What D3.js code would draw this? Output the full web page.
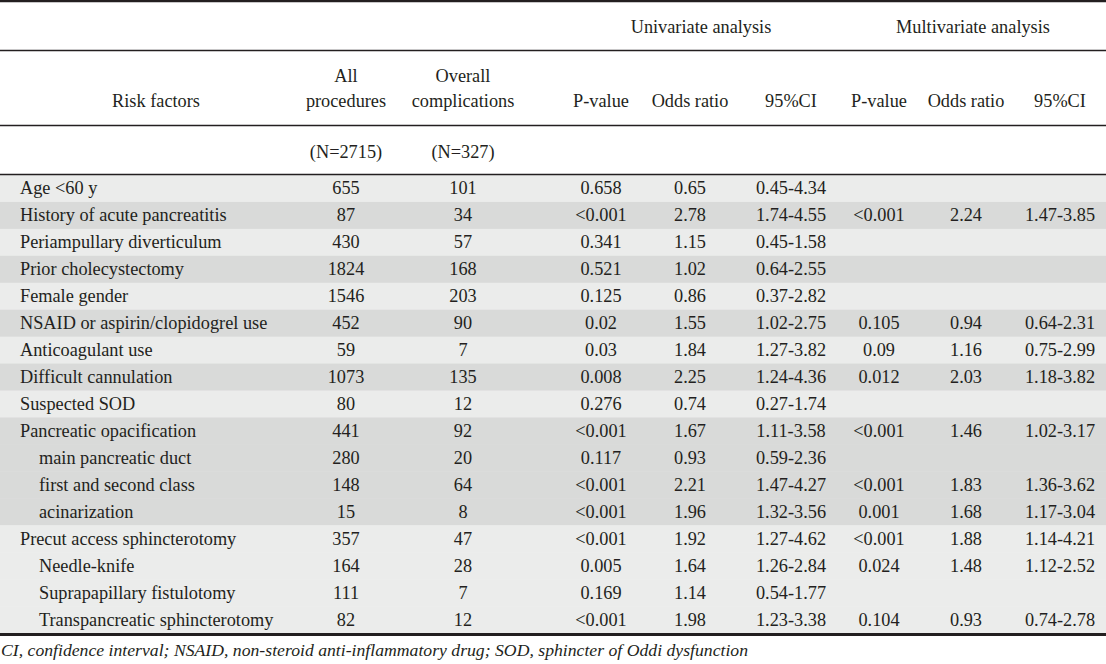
<!DOCTYPE html>
<html><head><meta charset="utf-8">
<script src="https://cdn.jsdelivr.net/npm/d3@7/dist/d3.min.js"></script>
<style>
html,body{margin:0;padding:0;background:#fff;}
svg text{font-family:"Liberation Serif","Times New Roman",serif;fill:#231f20;}
</style></head><body>
<svg id="c" width="1106" height="664"></svg>
<script>
const riskFactors = ["Age <60 y","History of acute pancreatitis","Periampullary diverticulum","Prior cholecystectomy","Female gender","NSAID or aspirin/clopidogrel use","Anticoagulant use","Difficult cannulation","Suspected SOD","Pancreatic opacification","main pancreatic duct","first and second class","acinarization","Precut access sphincterotomy","Needle-knife","Suprapapillary fistulotomy","Transpancreatic sphincterotomy"];
const indented = [false,false,false,false,false,false,false,false,false,false,true,true,true,false,true,true,true];
const shadeGroup = [0,1,0,1,0,1,0,1,0,1,1,1,1,0,0,0,0];
const allProcedures = ["655","87","430","1824","1546","452","59","1073","80","441","280","148","15","357","164","111","82"];
const overallComplications = ["101","34","57","168","203","90","7","135","12","92","20","64","8","47","28","7","12"];
const uniP = ["0.658","<0.001","0.341","0.521","0.125","0.02","0.03","0.008","0.276","<0.001","0.117","<0.001","<0.001","<0.001","0.005","0.169","<0.001"];
const uniOR = ["0.65","2.78","1.15","1.02","0.86","1.55","1.84","2.25","0.74","1.67","0.93","2.21","1.96","1.92","1.64","1.14","1.98"];
const uniCI = ["0.45-4.34","1.74-4.55","0.45-1.58","0.64-2.55","0.37-2.82","1.02-2.75","1.27-3.82","1.24-4.36","0.27-1.74","1.11-3.58","0.59-2.36","1.47-4.27","1.32-3.56","1.27-4.62","1.26-2.84","0.54-1.77","1.23-3.38"];
const multiP = ["","<0.001","","","","0.105","0.09","0.012","","<0.001","","<0.001","0.001","<0.001","0.024","","0.104"];
const multiOR = ["","2.24","","","","0.94","1.16","2.03","","1.46","","1.83","1.68","1.88","1.48","","0.93"];
const multiCI = ["","1.47-3.85","","","","0.64-2.31","0.75-2.99","1.18-3.82","","1.02-3.17","","1.36-3.62","1.17-3.04","1.14-4.21","1.12-2.52","","0.74-2.78"];
const columnKeys = ["risk","all","overall","uP","uOR","uCI","mP","mOR","mCI"];
const headerLine1 = ["","All","Overall","","","","","",""];
const headerLine2 = ["Risk factors","procedures","complications","P-value","Odds ratio","95%CI","P-value","Odds ratio","95%CI"];
const nLabels = ["","(N=2715)","(N=327)","","","","","",""];
const groupHeaders = ["Univariate analysis","Multivariate analysis"];
const footnote = "CI, confidence interval; NSAID, non-steroid anti-inflammatory drug; SOD, sphincter of Oddi dysfunction";

const W = 1106;
const svg = d3.select("#c");
const fs = 18.3;
const colX = d3.scaleOrdinal().domain(columnKeys).range([156,346,463,601,690,791,879,966,1060]);
const groupX = d3.scaleOrdinal().domain(groupHeaders).range([701,973]);
const rowY = d3.scaleBand().domain(d3.range(riskFactors.length)).range([175,633]).padding(0);
const shade = d3.scaleOrdinal().domain([0,1]).range(["#ebeceb","#d9dad9"]);

svg.selectAll("rect.bg").data(riskFactors).join("rect")
  .attr("x",0).attr("width",W)
  .attr("y",(d,i)=>rowY(i)).attr("height",rowY.bandwidth()+0.5)
  .attr("fill",(d,i)=>shade(shadeGroup[i]));

const line = (y,w)=>svg.append("line").attr("x1",0).attr("x2",W).attr("y1",y).attr("y2",y).attr("stroke","#231f20").attr("stroke-width",w);
line(1,2.5); line(50.5,1.3); line(125.5,1.3); line(174.5,1.3); line(634.5,3);

svg.selectAll("text.gh").data(groupHeaders).join("text")
  .attr("x",d=>groupX(d)).attr("y",33).attr("text-anchor","middle").attr("font-size",fs).text(d=>d);
svg.selectAll("text.h1").data(headerLine1).join("text")
  .attr("x",(d,i)=>colX(columnKeys[i])).attr("y",82).attr("text-anchor","middle").attr("font-size",fs).text(d=>d);
svg.selectAll("text.h2").data(headerLine2).join("text")
  .attr("x",(d,i)=>colX(columnKeys[i])).attr("y",107).attr("text-anchor","middle").attr("font-size",fs).text(d=>d);
svg.selectAll("text.hn").data(nLabels).join("text")
  .attr("x",(d,i)=>colX(columnKeys[i])).attr("y",158).attr("text-anchor","middle").attr("font-size",fs).text(d=>d);

const cols = [allProcedures,overallComplications,uniP,uniOR,uniCI,multiP,multiOR,multiCI];
const baseOff = rowY.bandwidth()/2 + 6;
svg.selectAll("text.rf").data(riskFactors).join("text")
  .attr("x",(d,i)=>indented[i]?39:20).attr("y",(d,i)=>rowY(i)+baseOff)
  .attr("font-size",fs).text(d=>d);
cols.forEach((arr,ci)=>{
  svg.append("g").selectAll("text").data(arr).join("text")
    .attr("x",colX(columnKeys[ci+1])).attr("y",(d,i)=>rowY(i)+baseOff)
    .attr("text-anchor","middle").attr("font-size",fs).text(d=>d);
});

svg.append("text").attr("x",1).attr("y",656).attr("font-size",17.7).attr("font-style","italic").text(footnote);
</script>
</body></html>
